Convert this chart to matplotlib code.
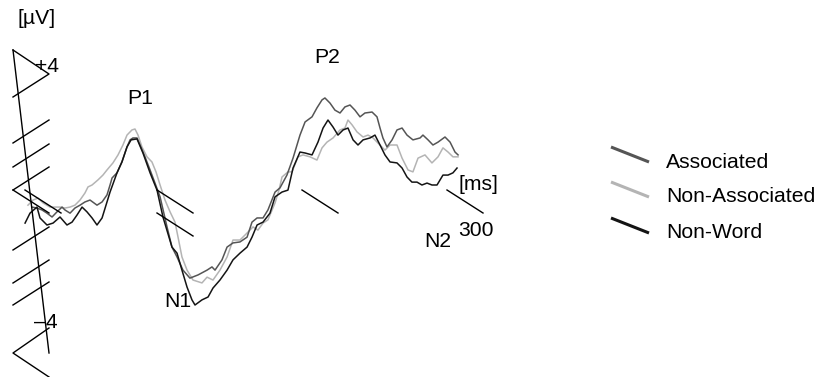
import matplotlib
matplotlib.use("Agg")
import matplotlib.pyplot as plt

plt.rcParams['font.family'] = ['Liberation Sans', 'DejaVu Sans']

# waveforms: time in ms, amplitude in microvolt
t_assoc = [1.4, 4.8, 8.3, 11.7, 15.2, 18.6, 22.1, 24.1, 27.6, 31.0, 34.5, 37.9, 41.4, 46.2, 49.7,
           53.1, 55.2, 56.6, 60.0, 63.4, 66.9, 69.0, 71.0, 73.8, 75.9, 79.3, 82.8, 86.2, 89.7, 94.5,
           97.9, 101.4, 105.5, 110.3, 115.9, 122.1, 125.5, 127.6, 132.4, 135.9, 140.0, 144.8, 149.7,
           153.1, 156.6, 160.7, 164.1, 169.0, 172.4, 177.2, 181.4, 186.2, 189.7, 194.5, 197.9, 201.4,
           203.4, 206.9, 210.3, 213.8, 217.2, 220.7, 224.1, 227.6, 231.0, 235.9, 239.3, 241.4, 243.4,
           246.2, 249.7, 253.1, 256.6, 260.0, 264.1, 269.0, 271.0, 274.5, 277.9, 281.4, 286.2, 289.7,
           293.1, 295.2]
v_assoc = [-0.19, -0.22, -0.28, -0.38, -0.5, -0.34, -0.19, -0.28, -0.38, -0.22, -0.13, -0.03, 0.03,
           -0.13, -0.03, 0.19, 0.5, 0.72, 0.88, 1.22, 1.69, 1.91, 1.97, 1.97, 1.75, 1.38, 0.97, 0.56,
           0.13, -0.81, -1.44, -1.75, -2.16, -2.41, -2.31, -2.16, -2.06, -2.16, -1.84, -1.44, -1.31,
           -1.28, -1.13, -0.66, -0.53, -0.53, -0.28, 0.28, 0.41, 0.81, 1.34, 2.06, 2.47, 2.63, 2.91,
           3.16, 3.22, 3.06, 2.84, 2.75, 2.94, 3.0, 2.84, 2.63, 2.75, 2.78, 2.63, 2.28, 1.97, 1.69,
           1.91, 2.22, 2.28, 2.06, 1.91, 1.97, 2.06, 1.91, 1.75, 1.84, 2.0, 1.84, 1.53, 1.44]

t_nonassoc = [-1.4, 2.1, 5.5, 9.0, 13.8, 20.7, 24.1, 27.6, 31.0, 34.5, 37.9, 40.0, 42.8, 46.9, 50.3,
              53.1, 57.2, 60.7, 64.1, 66.9, 70.3, 72.4, 74.5, 77.2, 80.7, 84.1, 86.9, 89.7, 93.1,
              96.6, 100.0, 102.1, 104.8, 108.3, 112.4, 118.6, 122.1, 126.2, 131.0, 135.9, 140.0,
              144.8, 149.7, 153.8, 157.2, 160.7, 164.1, 169.0, 171.7, 173.8, 177.9, 180.7, 184.8,
              188.3, 193.1, 197.9, 201.4, 204.8, 209.0, 213.8, 217.2, 219.3, 222.1, 225.5, 229.7,
              233.1, 236.6, 240.0, 244.8, 248.3, 253.1, 256.6, 260.7, 264.1, 267.6, 272.4, 277.2,
              281.4, 284.8, 288.3, 291.7, 295.2]
v_nonassoc = [-0.13, 0.03, 0.09, -0.06, -0.19, -0.19, -0.22, -0.19, -0.13, 0.03, 0.25, 0.44, 0.5,
              0.66, 0.81, 0.97, 1.19, 1.44, 1.75, 2.06, 2.22, 2.25, 2.06, 1.69, 1.38, 1.22, 0.91, 0.5,
              0.03, -0.34, -0.66, -1.13, -1.75, -2.16, -2.47, -2.56, -2.38, -2.47, -2.16, -1.75,
              -1.22, -1.22, -1.0, -0.81, -0.91, -0.69, -0.59, -0.06, 0.34, 0.75, 0.91, 0.91, 1.38,
              1.44, 1.38, 1.28, 1.66, 1.84, 1.97, 2.22, 2.28, 2.53, 2.38, 2.16, 2.0, 2.06, 1.97,
              1.81, 1.59, 1.75, 1.75, 1.34, 0.97, 0.91, 1.34, 1.44, 1.19, 1.38, 1.66, 1.53, 1.38, 1.38]

t_nonword = [-3.4, 0.0, 4.8, 6.9, 11.7, 15.9, 20.7, 25.5, 29.0, 32.4, 35.9, 39.3, 42.8, 46.2, 49.7,
             53.1, 55.2, 60.0, 63.4, 66.9, 69.7, 73.8, 77.9, 82.8, 87.6, 91.7, 97.9, 101.4, 104.8,
             108.3, 111.7, 113.8, 118.6, 122.8, 126.2, 131.0, 135.9, 140.0, 144.8, 149.7, 153.1,
             156.6, 160.7, 165.5, 169.0, 173.8, 177.9, 181.4, 186.2, 189.7, 194.5, 198.6, 202.1,
             205.5, 209.0, 212.4, 215.9, 219.3, 222.8, 226.2, 229.7, 234.5, 237.9, 241.4, 244.8,
             248.3, 253.1, 256.6, 260.0, 263.4, 266.9, 270.3, 273.8, 277.2, 280.7, 284.8, 288.3,
             291.7, 294.5]
v_nonword = [-0.69, -0.38, -0.19, -0.53, -0.75, -0.69, -0.5, -0.75, -0.66, -0.44, -0.19, -0.34,
             -0.53, -0.75, -0.53, -0.03, 0.28, 0.88, 1.22, 1.69, 1.91, 1.94, 1.5, 0.88, 0.34, -0.5,
             -1.44, -1.63, -2.16, -2.69, -3.09, -3.25, -3.09, -3.0, -2.72, -2.47, -2.16, -1.84,
             -1.63, -1.44, -1.13, -0.75, -0.66, -0.38, 0.13, 0.28, 0.34, 1.03, 1.53, 1.5, 1.44, 1.84,
             2.28, 2.53, 2.31, 2.06, 2.22, 2.28, 1.91, 1.75, 1.91, 1.97, 2.06, 1.75, 1.44, 1.22,
             1.19, 1.03, 0.75, 0.59, 0.59, 0.5, 0.56, 0.5, 0.5, 0.81, 0.81, 0.88, 1.03]

labels = ['Associated', 'Non-Associated', 'Non-Word']
colors = ['#555555', '#b4b4b4', '#141414']

# peak names: (label, ms, uV)
peaks = [('P1', 76, 3.2), ('N1', 102, -3.14), ('P2', 205, 4.47), ('N2', 281, -1.28)]

W, H = 816, 377
fig = plt.figure(figsize=(W / 100, H / 100), dpi=100)

# data axes: 1.45 px per ms (0 ms at px 30), 32 px per uV (0 uV at px 201)
ax = fig.add_axes([0, 0, 1, 1])
ax.set_xlim((0 - 30) / 1.45, (W - 30) / 1.45)
ax.set_ylim((201 - H) / 32, 201 / 32)
ax.axis('off')

fs = 15.2

series = [(t_assoc, v_assoc), (t_nonassoc, v_nonassoc), (t_nonword, v_nonword)]
# draw light line first so dark ones sit on top
for i in [1, 0, 2]:
    t, v = series[i]
    ax.plot(t, v, color=colors[i], lw=1.1, solid_joinstyle='round')

for name, tm, uv in peaks:
    ax.text(tm, uv, name, fontsize=fs, ha='center', va='center')

# overlay in pixel coordinates for the hand-drawn oblique axes and legend
ov = fig.add_axes([0, 0, 1, 1])
ov.set_xlim(0, W)
ov.set_ylim(H, 0)
ov.axis('off')
ov.patch.set_alpha(0)

k = dict(color='black', lw=1.0)
ov.plot([13, 49], [50, 353], **k)
ov.plot([13, 49, 13], [50, 74, 97], **k)
for y0 in [143, 167, 190, 250, 283, 305]:
    ov.plot([13, 49], [y0, y0 - 23], **k)
ov.plot([13, 49], [190, 213], **k)
ov.plot([49, 13, 49], [328, 353, 377], **k)
for x0, y0 in [(25, 190), (157, 190), (157, 213), (302, 190), (447, 190)]:
    ov.plot([x0, x0 + 36], [y0, y0 + 23], **k)

ov.text(37, 18, '[\u00b5V]', fontsize=fs, ha='center', va='center')
ov.text(47, 67, '+4', fontsize=fs, ha='center', va='center')
ov.text(46, 323, '\u20134', fontsize=fs, ha='center', va='center')
ov.text(478, 185, '[ms]', fontsize=fs, ha='center', va='center')
ov.text(476, 230, '300', fontsize=fs, ha='center', va='center')

# legend with slanted samples
leg_y = [147, 182, 218]
for i, lab in enumerate(labels):
    y0 = leg_y[i]
    ov.plot([611, 649], [y0, y0 + 15], color=colors[i], lw=2.2, solid_capstyle='butt')
    ov.text(666, y0 + 15, lab, fontsize=fs, ha='left', va='center')

fig.savefig('out.png', dpi=100)
